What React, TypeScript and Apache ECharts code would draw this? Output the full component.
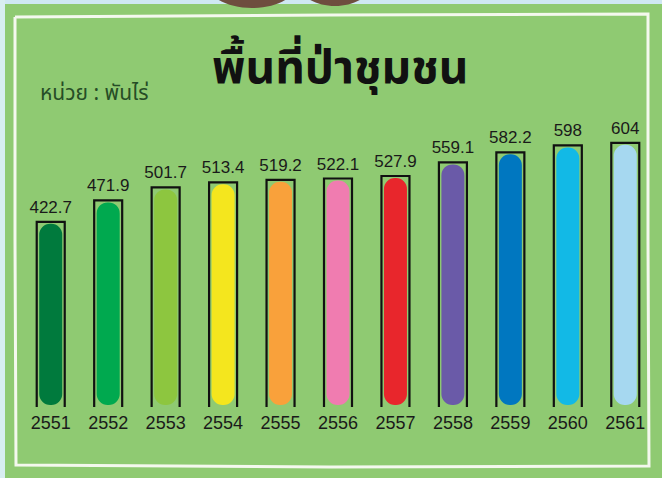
import React, { useEffect, useRef } from "react";
import * as echarts from "echarts";

const years = ["2551", "2552", "2553", "2554", "2555", "2556", "2557", "2558", "2559", "2560", "2561"];
const areas = [422.7, 471.9, 501.7, 513.4, 519.2, 522.1, 527.9, 559.1, 582.2, 598, 604];
const barColors = [
  "#007a3d", "#00a94f", "#8dc63f", "#f4e61e", "#f9a13b", "#f07cb0",
  "#e8262c", "#6a5aa8", "#0077c0", "#12b9e6", "#a6d8f0",
];
const titleText = "พื้นที่ป่าชุมชน";
const unitText = "หน่วย : พันไร่";

const FONT = "'Noto Sans Thai', 'Noto Sans', 'DejaVu Sans', sans-serif";
const NUM_FONT = "'Liberation Sans', 'DejaVu Sans', sans-serif";

export default function App() {
  const ref = useRef<HTMLDivElement>(null);
  useEffect(() => {
    if (!ref.current) return;
    const chart = echarts.init(ref.current, null, { renderer: "svg" });
    chart.setOption({
      animation: false,
      backgroundColor: "#8fca72",
      graphic: [
        { type: "rect", z: -10, shape: { x: 0, y: 0, width: 662, height: 4 }, style: { fill: "#cfe8f2" } },
        { type: "rect", z: -10, shape: { x: 0, y: 0, width: 5, height: 478 }, style: { fill: "#d8eef0" } },
        { type: "ellipse", z: -9, shape: { cx: 252, cy: -18, rx: 46, ry: 26 }, style: { fill: "#6e4d3e" } },
        { type: "ellipse", z: -9, shape: { cx: 335, cy: -22, rx: 40, ry: 28 }, style: { fill: "#6e4d3e" } },
        {
          type: "polyline", z: -8,
          shape: { points: [[15, 17], [330, 15], [648, 14], [648, 240], [649, 466], [330, 467], [16, 465], [15, 240], [15, 17]] },
          style: { stroke: "#f4f8ee", lineWidth: 3, fill: "none" },
        },
        {
          type: "text", left: 212, top: 46,
          style: { text: titleText, font: `bold 46px ${FONT}`, fill: "#111111" },
        },
        {
          type: "text", left: 40, top: 83,
          style: { text: unitText, font: `21px ${FONT}`, fill: "#264d26" },
        },
      ],
      grid: { left: 22, right: 8, top: 101, bottom: 72 },
      xAxis: {
        type: "category",
        data: years,
        axisLine: { show: false },
        axisTick: { show: false },
        axisLabel: { interval: 0, margin: 8, fontSize: 18, color: "#1a1a1a", fontFamily: NUM_FONT },
      },
      yAxis: {
        type: "value",
        min: 0,
        max: 700,
        show: false,
        splitLine: { show: false },
      },
      series: [
        {
          type: "custom",
          data: areas.map((v, i) => [i, v]),
          renderItem: (params: any, api: any) => {
            const idx = api.value(0);
            const val = api.value(1);
            const top = api.coord([idx, val]);
            const base = api.coord([idx, 0]);
            const cx = top[0];
            const ow = 28;
            const fw = 23;
            return {
              type: "group",
              children: [
                {
                  type: "rect",
                  shape: { x: cx - fw / 2, y: top[1] + 2, width: fw, height: base[1] - top[1] - 3, r: 11 },
                  style: { fill: barColors[idx] },
                },
                {
                  type: "polyline",
                  shape: {
                    points: [
                      [cx - ow / 2, base[1] + 1],
                      [cx - ow / 2, top[1]],
                      [cx + ow / 2, top[1]],
                      [cx + ow / 2, base[1] + 1],
                    ],
                  },
                  style: { stroke: "#111111", lineWidth: 2.2, fill: "none" },
                },
                {
                  type: "text",
                  x: cx,
                  y: top[1] - 6,
                  style: {
                    text: String(val),
                    textAlign: "center",
                    textVerticalAlign: "bottom",
                    font: `17px ${NUM_FONT}`,
                    fill: "#1a1a1a",
                  },
                },
              ],
            };
          },
        },
      ],
    });
    return () => chart.dispose();
  }, []);
  return <div ref={ref} style={{ position: "fixed", left: 0, top: 0, width: 662, height: 478 }} />;
}
